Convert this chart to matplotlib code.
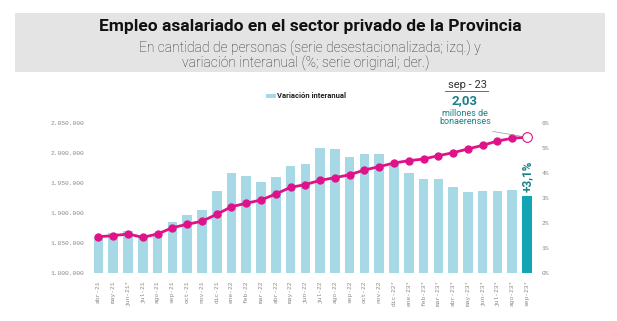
import matplotlib
matplotlib.use('Agg')
import matplotlib.pyplot as plt
from matplotlib.patches import Rectangle
import numpy as np

# Datos
meses = ['abr-21', 'may-21', 'jun-21*', 'jul-21', 'ago-21', 'sep-21', 'oct-21', 'nov-21', 'dic-21',
         'ene-22', 'feb-22', 'mar-22', 'abr-22', 'may-22', 'jun-22', 'jul-22', 'ago-22', 'sep-22',
         'oct-22', 'nov-22', 'dic-22*', 'ene-23*', 'feb-23*', 'mar-23*', 'abr-23*', 'may-23*',
         'jun-23*', 'jul-23*', 'ago-23*', 'sep-23*']
variacion = [1.45, 1.6, 1.7, 1.5, 1.6, 2.05, 2.32, 2.52, 3.3, 4.0, 3.88, 3.64, 3.84, 4.28, 4.36,
             5.03, 4.99, 4.65, 4.77, 4.77, 4.4, 4.01, 3.77, 3.77, 3.47, 3.25, 3.31, 3.31, 3.35, 3.1]
empleo = [1861000, 1862700, 1865500, 1860000, 1865500, 1876000, 1881700, 1886700, 1898300,
          1911000, 1916700, 1922200, 1932200, 1943300, 1947800, 1955000, 1959300, 1964300,
          1972200, 1977800, 1983800, 1987700, 1990500, 1996000, 2001000, 2007200, 2013300,
          2020500, 2025000, 2027000]
left_ticks = [1800000, 1850000, 1900000, 1950000, 2000000, 2050000]
right_ticks = [0, 1, 2, 3, 4, 5, 6]

celeste = '#a6d8e6'
turquesa = '#14a5b5'
magenta = '#e0128a'
verde = '#1b8088'
gris = '#8a8a8a'

W, H = 617, 321
fig = plt.figure(figsize=(W / 100, H / 100), dpi=100)

# Encabezado
fig.patches.append(Rectangle((15 / W, 1 - 72 / H), 590 / W, 59 / H, transform=fig.transFigure,
                             facecolor='#e4e4e4', edgecolor='none', zorder=0))
fig.text(310 / W, 1 - 27 / H, 'Empleo asalariado en el sector privado de la Provincia',
         ha='center', va='center', fontsize=12.5, fontweight='bold', family='Roboto', color='#111111')
fig.text(310 / W, 1 - 48 / H, 'En cantidad de personas (serie desestacionalizada; izq.) y',
         ha='center', va='center', fontsize=10, fontweight='light', family='Roboto', color='#2a2a2a')
fig.text(306 / W, 1 - 63 / H, 'variación interanual (%; serie original; der.)',
         ha='center', va='center', fontsize=10, fontweight='light', family='Roboto', color='#2a2a2a')

# Ejes: barras (der.) y línea (izq.)
x0, x1 = 91.1, 534.4
ax = fig.add_axes([x0 / W, 47.7 / H, (x1 - x0) / W, 150 / H])
x = np.arange(len(meses))
colores = [celeste] * (len(meses) - 1) + [turquesa]
ax.bar(x, variacion, width=0.65, color=colores, zorder=1)
ax.set_xlim(-0.5, len(meses) - 0.5)
ax.set_ylim(0, 6)
ax.set_yticks(right_ticks)
ax.set_yticklabels([f'{t}%' for t in right_ticks], family='Liberation Mono', fontsize=4.5, color=gris)
ax.set_xticks(x)
ax.set_xticklabels(meses, rotation=90, family='Liberation Mono', fontsize=4.5, color=gris)
ax.tick_params(axis='x', length=0, pad=5)
for s in ax.spines.values():
    s.set_visible(False)

ax2 = ax.twinx()
ax2.plot(x[:-1], empleo[:-1], color=magenta, lw=2, marker='o', ms=5, zorder=3)
ax2.plot(x[-2:], empleo[-2:], color=magenta, lw=2, zorder=3)
ax2.plot(x[-1], empleo[-1], marker='o', ms=7, mfc='white', mec=magenta, mew=0.8, zorder=4)
ax2.set_ylim(1800000, 2050000)
ax2.set_yticks(left_ticks)
ax2.set_yticklabels([f'{t:,}'.replace(',', '.') for t in left_ticks],
                    family='Liberation Mono', fontsize=4.5, color=gris)
ax2.tick_params(axis='y', length=0, left=False, labelleft=True, right=False, labelright=False, pad=5)
ax.tick_params(axis='y', length=0, left=False, labelleft=False, right=False, labelright=True, pad=5)
for s in ax2.spines.values():
    s.set_visible(False)

# Etiqueta del último dato
ax2.text(x[-1], 1800000 + (variacion[-1] + 0.15) / 6 * 250000, '+3,1%', rotation=90,
         ha='center', va='bottom', fontsize=8.5, fontweight='bold', family='Roboto', color=verde)

# Leyenda
fig.patches.append(Rectangle((266 / W, 1 - 97.5 / H), 10 / W, 4 / H, transform=fig.transFigure,
                             facecolor=celeste, edgecolor='none'))
fig.text(277 / W, 1 - 96 / H, 'Variación interanual', ha='left', va='center',
         fontsize=5.5, fontweight='bold', family='Roboto', color='#222222')

# Anotación sep-23
fig.text(467 / W, 1 - 85 / H, 'sep - 23', ha='center', va='center', fontsize=8,
         family='Roboto', color='#333333')
fig.add_artist(plt.Line2D([445 / W, 488 / W], [1 - 91 / H, 1 - 91 / H], color='#555555', lw=0.6))
fig.text(465 / W, 1 - 101 / H, '2,03', ha='center', va='center', fontsize=9.5,
         fontweight='bold', family='Roboto', color=verde)
fig.text(465 / W, 1 - 113.5 / H, 'millones de', ha='center', va='center', fontsize=6.5,
         family='Roboto', color=verde)
fig.text(465 / W, 1 - 122 / H, 'bonaerenses', ha='center', va='center', fontsize=6.5,
         family='Roboto', color=verde)
ax2.annotate('', xy=(x[-1] - 0.2, empleo[-1] + 600), xytext=(490, H - 131),
             textcoords='figure pixels', arrowprops=dict(arrowstyle='-', color='#999999', lw=0.5))

fig.savefig('out.png', dpi=100)
